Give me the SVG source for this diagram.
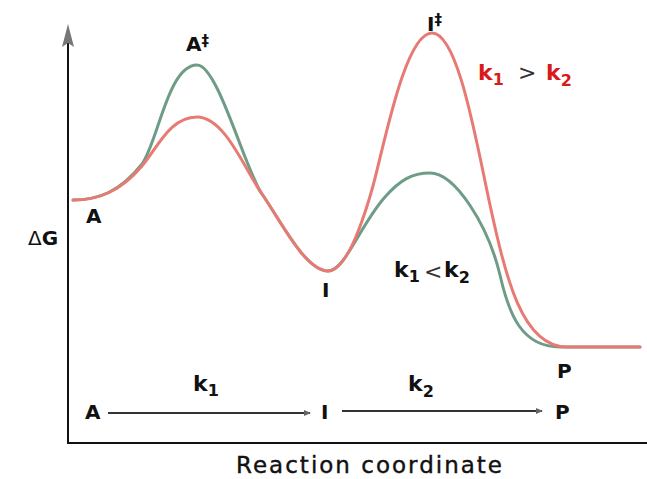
<svg xmlns="http://www.w3.org/2000/svg" width="647" height="479" viewBox="0 0 647 479">
<style>
.lbl{font-family:"DejaVu Sans",Verdana,sans-serif;font-weight:bold;font-size:20px;fill:#111}
.k{font-family:"DejaVu Sans",Verdana,sans-serif;font-weight:bold;font-size:22px}
.sub{font-size:16px}
.dg{font-size:15px}
.op{font-family:"DejaVu Sans",Verdana,sans-serif;font-weight:normal;font-size:22px;fill:#333}
.curve{fill:none;stroke-width:3;stroke-linecap:round;stroke-linejoin:round}
.green{stroke:#6e9c86}
.red{stroke:#e87a74}
.axis{stroke:#111;stroke-width:2;fill:none}
.rx{stroke:#333;stroke-width:2;fill:none}
</style>
<defs>
<marker id="ah" markerWidth="8" markerHeight="8" refX="6" refY="4" orient="auto" markerUnits="userSpaceOnUse">
<path d="M0,1 L7,4 L0,7 Z" fill="#666"/>
</marker>
</defs>
<rect width="647" height="479" fill="#fff"/>
<g id="axes">
<line class="axis" x1="68" y1="40" x2="68" y2="444"/>
<line class="axis" x1="67" y1="443" x2="647" y2="443"/>
<path d="M68,24 L74,47 L68,43 L62,47 Z" fill="#777"/>
</g>
<g id="connectors">
<path class="curve green" d="M73,200 C98,200 120,192 142,164 C158,142 168,65 197,65 C218,65 245,170 262,194 C279,218 305,271 328,271 C345,271 360,225 385,197 C400,180 412,173 430,173 C455,173 488,225 500,275 C509,315 522,347 560,347 L640,347"/>
<path class="curve red" d="M73,200 C98,200 120,192 142,166 C158,147 170,117 197,117 C225,117 245,170 262,194 C279,218 305,271 328,271 C347,271 364,218 373,186 C384,146 405,33 432,33 C458,33 476,140 490,205 C506,278 522,347 567,347 L640,347"/>
<line class="rx" x1="108" y1="413" x2="310" y2="413" marker-end="url(#ah)"/>
<line class="rx" x1="342" y1="411" x2="542" y2="411" marker-end="url(#ah)"/>
</g>
<g id="labels">
<text class="lbl" x="28" y="245"><tspan font-weight="normal">Δ</tspan>G</text>
<text class="lbl" x="86" y="223">A</text>
<text class="lbl" x="186" y="51">A<tspan class="dg" dy="-5">‡</tspan></text>
<text class="lbl" x="427" y="31">I<tspan class="dg" dy="-6">‡</tspan></text>
<text class="lbl" x="322" y="297">I</text>
<text class="lbl" x="557" y="378">P</text>
<text class="lbl" x="85" y="419">A</text>
<text class="lbl" x="321" y="419">I</text>
<text class="lbl" x="555" y="419">P</text>
</g>
<g id="rates">
<text class="k" x="193" y="391" fill="#111">k<tspan class="sub" dy="5">1</tspan></text>
<text class="k" x="408" y="391" fill="#111">k<tspan class="sub" dy="6">2</tspan></text>
<text class="k" x="478" y="80" fill="#d91a1a">k<tspan class="sub" dy="5">1</tspan></text>
<text class="op" x="518" y="80">&gt;</text>
<text class="k" x="546" y="80" fill="#d91a1a">k<tspan class="sub" dy="6">2</tspan></text>
<text class="k" x="394" y="277" fill="#111">k<tspan class="sub" dy="5">1</tspan></text>
<text class="op" x="424" y="279" fill="#111">&lt;</text>
<text class="k" x="444" y="277" fill="#111">k<tspan class="sub" dy="6">2</tspan></text>
</g>
<text x="236" y="473" font-family="DejaVu Sans, Verdana, sans-serif" font-size="23" fill="#111" stroke="#111" stroke-width="0.4" textLength="266" lengthAdjust="spacing">Reaction coordinate</text>
</svg>
